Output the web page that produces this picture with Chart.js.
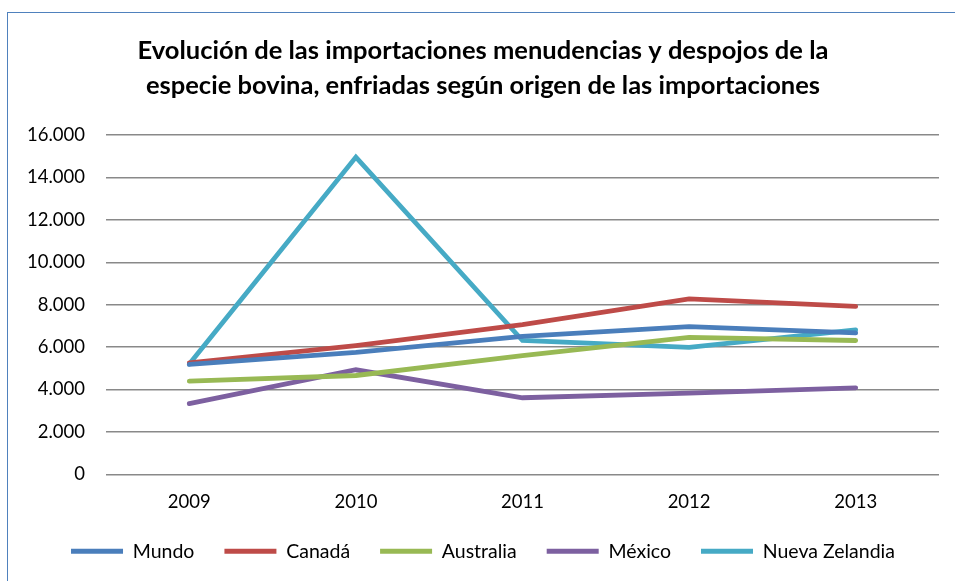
<!DOCTYPE html>
<html>
<head>
<meta charset="utf-8">
<script src="https://cdn.jsdelivr.net/npm/chart.js@4"></script>
<style>
    html, body { margin: 0; padding: 0; background: #fff; }
    #wrap { position: relative; width: 955px; height: 581px; overflow: hidden; }
    #frame {
        position: absolute; left: 7px; top: 12px; width: 1100px; height: 800px;
        border: 1.5px solid #4F81BD; box-sizing: border-box;
    }
    canvas { position: absolute; left: 0; top: 0; }
</style>
</head>
<body>
<div id="wrap">
    <div id="frame"></div>
    <canvas id="lineChart" width="955" height="581"></canvas>
</div>
<script>
// Data
const years = ['2009', '2010', '2011', '2012', '2013'];
const mundo = [5180, 5750, 6500, 6960, 6670];
const canada = [5250, 6070, 7060, 8270, 7920];
const australia = [4390, 4660, 5600, 6460, 6310];
const mexico = [3330, 4930, 3610, 3830, 4080];
const nuevaZelandia = [5200, 14960, 6310, 5990, 6810];

const FONT = 'Lato, "Open Sans", sans-serif';

function series(label, data, color) {
    return {
        label: label,
        data: data,
        borderColor: color,
        backgroundColor: color,
        borderWidth: 4.8,
        borderCapStyle: 'round',
        borderJoinStyle: 'miter',
        pointRadius: 0,
        tension: 0,
        fill: false
    };
}

const ctx = document.getElementById('lineChart').getContext('2d');
new Chart(ctx, {
    type: 'line',
    data: {
        labels: years,
        datasets: [
            series('Mundo', mundo, '#4A7EBB'),
            series('Canadá', canada, '#BE4B48'),
            series('Australia', australia, '#98B954'),
            series('México', mexico, '#7D60A0'),
            series('Nueva Zelandia', nuevaZelandia, '#46AAC5')
        ]
    },
    options: {
        responsive: false,
        animation: false,
        layout: {
            padding: { top: 33, right: 16, bottom: 10, left: 27 }
        },
        plugins: {
            title: {
                display: true,
                text: [
                    'Evolución de las importaciones menudencias y despojos de la',
                    'especie bovina, enfriadas según origen de las importaciones'
                ],
                color: '#000',
                font: { family: FONT, size: 25.5, weight: 'bold', lineHeight: 1.373 },
                padding: { top: 0, bottom: 32 }
            },
            legend: {
                position: 'bottom',
                labels: {
                    usePointStyle: true,
                    pointStyle: 'line',
                    pointStyleWidth: 52,
                    color: '#000',
                    font: { family: FONT, size: 19.5 },
                    padding: 30
                }
            },
            tooltip: { enabled: false }
        },
        scales: {
            x: {
                offset: true,
                afterFit: (scale) => { scale.height -= 19; },
                grid: { display: false, drawTicks: false },
                border: { display: false },
                ticks: {
                    color: '#000',
                    font: { family: FONT, size: 18.5 },
                    padding: 17
                }
            },
            y: {
                min: 0,
                max: 16000,
                afterFit: (scale) => { scale.width = 79; },
                grid: { color: '#898989', lineWidth: 1.5, drawTicks: false },
                border: { display: false },
                ticks: {
                    stepSize: 2000,
                    color: '#000',
                    padding: 21,
                    font: { family: FONT, size: 18.5 },
                    callback: (v) => v === 0 ? '0' : v.toLocaleString('de-DE')
                }
            }
        }
    }
});
</script>
</body>
</html>
